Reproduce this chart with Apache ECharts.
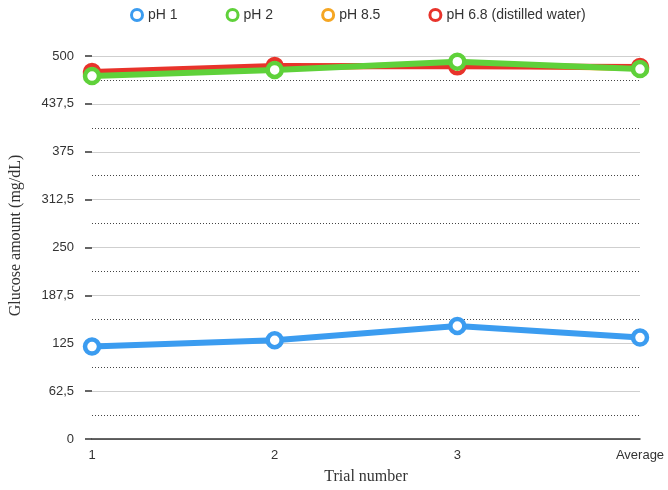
<!DOCTYPE html>
<html><head><meta charset="utf-8">
<script src="https://cdn.jsdelivr.net/npm/echarts@6/dist/echarts.min.js"></script>
<style>html,body{margin:0;padding:0;background:#fff}#c{width:668px;height:490px}</style>
</head><body><div id="c"></div>
<script>
var categories = ['1', '2', '3', 'Average'];
var seriesNames = ['pH 1', 'pH 2', 'pH 8.5', 'pH 6.8 (distilled water)'];
var ph1 = [120.7, 128.9, 147.5, 132.4];
var ph2 = [473.8, 481.8, 492.6, 483];
var ph85 = [476.5, 484.5, 489, 484];
var ph68 = [479, 487, 486.5, 485.7];
var yTicks = [0, 62.5, 125, 187.5, 250, 312.5, 375, 437.5, 500];

var colors = ['#3b9cf0', '#5fd13a', '#f5a623', '#e8332b'];
var dataList = [ph1, ph2, ph85, ph68];
var zs = [2, 5, 3, 4];
var series = seriesNames.map(function (n, i) {
  return {
    name: n, type: 'line', data: dataList[i], z: zs[i],
    symbol: 'circle', symbolSize: 14, showSymbol: true,
    lineStyle: { width: 6, color: colors[i] },
    itemStyle: { color: '#fff', borderColor: colors[i], borderWidth: 4.5 },
    emphasis: { disabled: true }
  };
});

var chart = echarts.init(document.getElementById('c'), null, { renderer: 'canvas' });
chart.setOption({
  animation: false,
  color: colors,
  textStyle: { fontFamily: 'Liberation Sans' },
  legend: {
    top: 3, left: 125, itemGap: 48, itemWidth: 12, itemHeight: 11,
    icon: 'circle',
    textStyle: { fontSize: 14, color: '#333', fontFamily: 'Liberation Sans' },
    data: seriesNames.map(function (n, i) {
      return { name: n, itemStyle: { color: '#fff', borderColor: colors[i], borderWidth: 3 } };
    })
  },
  grid: { left: 92, right: 28, top: 56, bottom: 50, containLabel: false },
  xAxis: {
    type: 'category', data: categories, boundaryGap: false,
    name: 'Trial number', nameLocation: 'middle', nameGap: 30,
    nameTextStyle: { fontFamily: 'Liberation Serif', fontSize: 16, color: '#333' },
    axisLine: { lineStyle: { color: '#333', width: 1.5 } },
    axisTick: { show: false },
    axisLabel: { color: '#333', fontSize: 13, margin: 10 },
    splitLine: { show: false }
  },
  yAxis: {
    type: 'value', min: 0, max: 500, interval: 62.5,
    name: 'Glucose amount (mg/dL)', nameLocation: 'middle', nameGap: 68,
    nameTextStyle: { fontFamily: 'Liberation Serif', fontSize: 16, color: '#333', padding: [0, 0, 0, 24] },
    axisLine: { show: false },
    axisTick: { show: true, length: 7, lineStyle: { color: '#333', width: 1.5 } },
    axisLabel: {
      color: '#333', fontSize: 13, margin: 18,
      formatter: function (v) { return String(v).replace('.', ','); }
    },
    splitLine: { show: true, lineStyle: { color: '#cfcfcf', width: 1 } },
    minorTick: { show: false, splitNumber: 2 },
    minorSplitLine: { show: true, lineStyle: { color: '#444', type: [1, 2], width: 1 } }
  },
  series: series
});
</script>
</body></html>
